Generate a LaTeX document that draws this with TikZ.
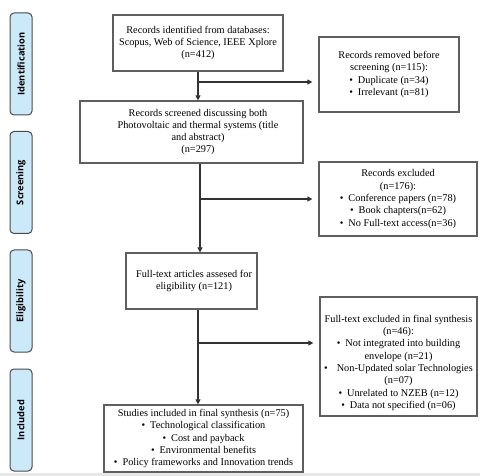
\documentclass[tikz,border=0pt]{standalone}
\usepackage{fontspec}
\setmainfont{Liberation Serif}
\newfontfamily\sidefont{Open Sans}
\usetikzlibrary{arrows.meta}
\definecolor{boxc}{HTML}{5F5F5F}
\definecolor{sidefill}{HTML}{CCE9F9}
\definecolor{sidedraw}{HTML}{4A4A4A}
\definecolor{connc}{HTML}{333333}
\definecolor{stripc}{HTML}{E6E6E6}
\newcommand\bul{\textbullet\hspace{5pt}}
\begin{document}
\begin{tikzpicture}[x=1pt,y=-1pt,
  box/.style={draw=boxc, line width=1.2pt, fill=white, inner sep=0pt, align=center,
    font=\fontsize{10.3}{12.3}\selectfont},
  side/.style={draw=sidedraw, line width=1pt, fill=sidefill, rounded corners=4pt,
    rotate=90, inner sep=0pt, minimum width=102pt, minimum height=22pt,
    font=\sidefont\bfseries\fontsize{9.3}{11}\selectfont},
  conn/.style={draw=connc, line width=1.1pt},
  tip/.style={-{Triangle[length=5pt,width=5pt]}}]
\useasboundingbox (0,0) rectangle (480,476);
\fill[white] (0,0) rectangle (480,476);
\fill[stripc] (0,472.5) rectangle (480,476);

% side labels
\node[side] (sid) at (21,64) {Identification};
\node[side] (sscr) at (21,182.5) {Screening};
\node[side] (selig) at (21,301) {Eligibility};
\node[side] (sinc) at (21,420) {Included};

% main boxes
\node[box, minimum width=170pt, minimum height=56pt] (b1) at (198,43)
  {Records identified from databases:\\Scopus, Web of Science, IEEE Xplore\\(n=412)};
\node[box, minimum width=140pt, minimum height=75pt] (rem) at (389,74.5)
  {Records removed before\\screening (n=115):\\\bul Duplicate (n=34)\\\bul Irrelevant (n=81)};
\node[box, minimum width=223pt, minimum height=62pt] (b2) at (191.5,132)
  {\hspace*{13pt}\begin{tabular}{@{}c@{}}Records screened discussing both\\Photovoltaic and thermal systems (title\\and abstract)\\(n=297)\end{tabular}};
\node[box, minimum width=158pt, minimum height=74pt] (exc) at (398,199)
  {Records excluded\\(n=176):\\\bul Conference papers (n=78)\\\bul Book chapters(n=62)\\\bul No Full-text access(n=36)};
\node[box, minimum width=131pt, minimum height=56pt] (b3) at (191.5,281)
  {\hspace*{5pt}\begin{tabular}{@{}c@{}}Full-text articles assesed for\\eligibility (n=121)\end{tabular}};
\node[box, minimum width=157pt, minimum height=119pt] (ft) at (398.5,356.5)
  {\rule{0pt}{20pt}Full-text excluded in final synthesis\\(n=46):\\\bul Not integrated into building\\envelope (n=21)\\\textbullet\hspace{9pt}Non-Updated solar Technologies\\(n=07)\\\bul Unrelated to NZEB (n=12)\\\bul Data not specified (n=06)};
\node[box, minimum width=199pt, minimum height=67pt] (b4) at (203.5,438.5)
  {Studies included in final synthesis (n=75)\\\bul Technological classification\\\bul Cost and payback\\\bul Environmental benefits\\\bul Policy frameworks and Innovation trends};

% connectors
\coordinate (j1) at (198,82);
\coordinate (j2) at (200,199);
\coordinate (j3) at (198,343);
\draw[conn,tip] (b1.south -| j1) -- (b2.north -| j1);
\draw[conn,tip,shorten >=6pt] (j1) -- (rem.west |- j1);
\draw[conn,tip] (b2.south -| j2) -- (b3.north -| j2);
\draw[conn,tip,shorten >=6pt] (j2) -- (exc.west |- j2);
\draw[conn,tip] (b3.south -| j3) -- (b4.north -| j3);
\draw[conn,tip,shorten >=6pt] (j3) -- (ft.west |- j3);
\end{tikzpicture}
\end{document}
